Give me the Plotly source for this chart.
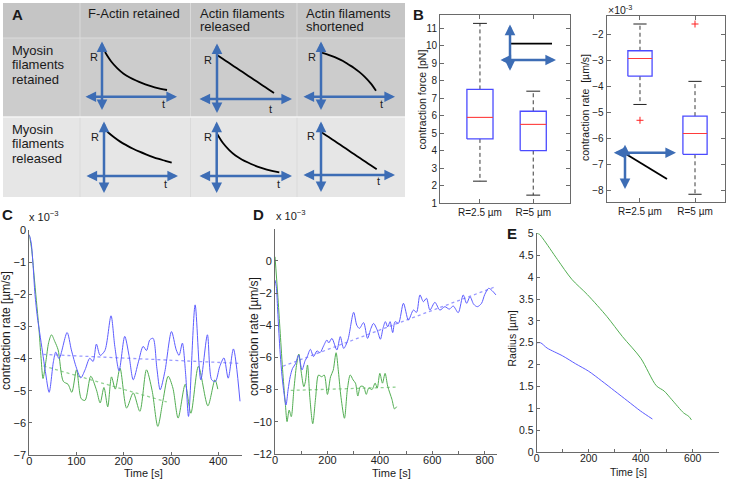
import plotly.graph_objects as go

W, H = 729, 480
FONT = "Liberation Sans, Arial, sans-serif"
BLUE = "#5c5cff"
GREEN = "#52ad52"
BLUE_DOT = "#9a9aff"
GREEN_DOT = "#93d293"
ARROW = "#3d6db5"
AXIS = "#6a6a6a"

# ---------------- panel B: box statistics ----------------
groups = ["R=2.5 µm", "R=5 µm"]
force_lo = [2.25, 1.45]
force_q1 = [4.67, 4.0]
force_med = [5.9, 5.5]
force_q3 = [7.5, 6.25]
force_hi = [11.28, 7.4]

rate_lo = [-4.7, -8.16]
rate_q1 = [-3.61, -6.62]
rate_med = [-2.93, -5.82]
rate_q3 = [-2.63, -5.15]
rate_hi = [-1.6, -3.81]
rate_out_group = [1, 2]
rate_out_val = [-5.31, -1.6]

# ---------------- panel C: contraction rate (x 10^-3 um/s) ----------------
c_blue_t = [0, 4, 8, 12, 17, 22, 28, 34, 42, 51, 56, 63, 80, 89, 100, 109, 118, 128, 135, 142,
            150, 160, 173, 181, 190, 202, 211, 220, 231, 241, 248, 255, 262, 270, 277, 287, 301,
            311, 317, 324, 331, 337, 351, 363, 377, 386, 394, 403, 412, 421, 432, 446]
c_blue_v = [-0.15, -0.4, -1.1, -2.0, -2.7, -3.2, -3.8, -4.4, -5.05, -4.1, -3.8, -4.0, -3.19, -3.73,
            -4.3, -4.6, -4.35, -3.99, -4.09, -3.55, -3.9, -3.75, -2.67, -3.62, -4.38, -3.31, -3.9,
            -4.66, -4.1, -3.62, -3.75, -3.42, -3.37, -4.3, -4.97, -4.4, -3.16, -3.73, -3.9, -3.52,
            -4.5, -5.8, -2.33, -4.66, -3.26, -4.66, -4.71, -4.25, -3.98, -4.61, -3.7, -5.33]
c_green_t = [0, 5, 10, 15, 20, 25, 29, 35, 41, 47, 54, 61, 72, 82, 90, 100, 110, 118, 130, 142,
             150, 158, 166, 174, 182, 192, 206, 220, 234, 248, 260, 272, 283, 294, 304, 315, 330,
             342, 358, 378, 393, 399]
c_green_v = [-0.15, -0.6, -1.4, -2.2, -3.0, -4.0, -4.62, -4.1, -3.5, -3.26, -3.47, -3.73, -4.71,
             -4.8, -5.05, -4.35, -5.25, -5.3, -4.55, -4.97, -5.38, -4.9, -5.5, -4.57, -4.95, -4.3,
             -5.54, -5.07, -5.64, -4.35, -5.0, -6.11, -5.3, -4.55, -4.92, -5.85, -4.8, -5.7,
             -4.24, -5.47, -4.66, -4.95]
c_blue_fit_t = [30, 446]
c_blue_fit_v = [-3.87, -4.15]
c_green_fit_t = [30, 291]
c_green_fit_v = [-4.23, -5.35]

# ---------------- panel D ----------------
d_blue_t = [0, 5, 10, 15, 20, 27, 35, 42, 50, 58, 67, 78, 90, 103, 115, 122, 135, 147, 160, 172,
            185, 198, 205, 217, 236, 249, 262, 278, 300, 312, 322, 338, 353, 366, 376, 390, 402,
            412, 421, 430, 439, 449, 458, 471, 490, 509, 528, 540, 553, 566, 578, 591, 610, 629,
            648, 665, 680, 699, 718, 731, 744, 758, 772, 788, 800, 815, 828, 843]
d_blue_v = [-1.2, -1.6, -3.0, -4.5, -5.8, -7.2, -8.3, -8.96, -8.0, -7.2, -6.68, -6.4, -5.85, -6.78,
            -6.2, -6.0, -5.5, -5.95, -5.6, -5.7, -5.3, -4.92, -5.1, -4.82, -5.54, -4.71, -5.44,
            -4.92, -3.2, -4.0, -4.2, -3.84, -4.82, -4.2, -3.89, -4.3, -4.87, -4.2, -3.78, -4.1,
            -3.78, -4.46, -3.78, -3.88, -2.64, -3.68, -3.06, -3.2, -2.12, -2.54, -2.33, -3.06,
            -2.58, -3.06, -2.85, -3.0, -2.81, -3.22, -2.12, -2.64, -2.23, -2.7, -2.85, -2.64,
            -2.1, -1.71, -1.85, -2.12]
d_green_t = [0, 10, 20, 30, 40, 46, 54, 62, 72, 82, 91, 100, 110, 116, 124, 133, 144, 155, 166,
             178, 188, 200, 212, 222, 233, 242, 252, 265, 276, 287, 298, 307, 316, 326, 338, 348,
             358, 370, 382, 390, 400, 410, 420, 430, 446, 456, 464]
d_green_v = [0.25, -2.0, -4.5, -7.0, -9.0, -9.99, -9.27, -9.68, -8.0, -6.5, -5.79, -6.9, -7.82,
             -7.5, -6.47, -8.5, -10.12, -8.5, -7.1, -7.2, -7.1, -8.3, -7.2, -6.8, -5.71, -6.9,
             -8.5, -9.78, -8.0, -7.09, -7.4, -7.6, -8.4, -7.8, -7.82, -8.3, -7.9, -8.0, -7.6,
             -7.9, -6.99, -7.6, -6.99, -7.8, -8.6, -9.2, -9.06]
d_blue_fit_t = [30, 835]
d_blue_fit_v = [-6.55, -1.65]
d_green_fit_t = [60, 460]
d_green_fit_v = [-8.05, -7.85]

# ---------------- panel E: radius ----------------
e_blue_t = [0, 15, 40, 100, 150, 200, 250, 300, 350, 400, 445]
e_blue_r = [2.5, 2.5, 2.38, 2.2, 2.02, 1.85, 1.63, 1.4, 1.17, 0.94, 0.76]
e_green_t = [0, 10, 25, 80, 135, 195, 270, 330, 400, 460, 490, 520, 565, 585, 595]
e_green_r = [5.0, 4.98, 4.87, 4.4, 3.95, 3.6, 3.1, 2.64, 2.15, 1.52, 1.4, 1.2, 0.9, 0.82, 0.74]

# ---------------- panel A: schematic R(t) shapes ----------------
col_titles = [["F-Actin retained"], ["Actin filaments", "released"], ["Actin filaments", "shortened"]]
row_titles = [["Myosin", "filaments", "retained"], ["Myosin", "filaments", "released"]]
profile_u = [0, .1, .2, .3, .4, .5, .6, .7, .8, .9, 1]
profiles = {
    "decay": [0, .25, .43, .57, .67, .75, .82, .88, .93, .97, 1],
    "decay_slow": [0, .17, .32, .44, .55, .645, .73, .81, .88, .94, 1],
    "linear": [0, .1, .2, .3, .4, .5, .6, .7, .8, .9, 1],
    "concave": [0, .04, .09, .15, .22, .31, .4, .51, .64, .8, 1],
}
cell_curve = [["decay", "linear", "concave"], ["decay_slow", "decay", "linear"]]

# cell geometry in page pixels: curve start/end, arrow axes, label spots
cell_geo = [
    [dict(p0=(105, 52), p1=(167, 90), vx=102, vy=(40, 110), hy=96.7, hx=(84, 177), R=(94, 57), t=(163, 104)),
     dict(p0=(217, 55), p1=(274, 93), vx=217, vy=(42, 113), hy=99, hx=(198, 292), R=(208, 60), t=(270, 109)),
     dict(p0=(321, 52.7), p1=(376, 90.7), vx=321, vy=(40, 110), hy=96.7, hx=(302, 395), R=(312, 57), t=(381, 104))],
    [dict(p0=(107.3, 131.7), p1=(171.7, 162.7), vx=104, vy=(120, 193), hy=176, hx=(85, 178), R=(95, 137), t=(165, 184)),
     dict(p0=(216.7, 133.3), p1=(279.3, 172.3), vx=216.7, vy=(120, 193), hy=176, hx=(198, 292), R=(208, 137), t=(278, 184)),
     dict(p0=(320.7, 131.7), p1=(376.7, 169.3), vx=321, vy=(120, 192), hy=175, hx=(302, 395), R=(311, 136), t=(378, 181))],
]

fig = go.Figure()


def txt(x, y, s, size=11, bold=False, xanchor="center", angle=0, color="#1a1a1a"):
    fig.add_annotation(x=x, y=y, xref="x6", yref="y6", text=f"<b>{s}</b>" if bold else s,
                       showarrow=False, xanchor=xanchor, yanchor="middle", textangle=angle,
                       font=dict(family=FONT, size=size, color=color))


def arrow2(x0, y0, x1, y1):
    fig.add_annotation(x=x1, y=y1, ax=x0, ay=y0, xref="x6", yref="y6", axref="x6", ayref="y6",
                       text="", showarrow=True, arrowhead=2, startarrowhead=2,
                       arrowside="end+start", arrowsize=0.85, startarrowsize=0.85,
                       arrowwidth=2.5, arrowcolor=ARROW, standoff=0, startstandoff=0)


def seg(x0, y0, x1, y1, color="black", width=1.8):
    fig.add_shape(type="line", x0=x0, y0=y0, x1=x1, y1=y1, xref="x6", yref="y6",
                  line=dict(color=color, width=width))


# ---- panel A table background
fig.add_shape(type="rect", x0=3, x1=405, y0=3, y1=38, xref="x6", yref="y6", layer="below",
              fillcolor="#c5c5c5", line_width=0)
fig.add_shape(type="rect", x0=3, x1=405, y0=38, y1=117, xref="x6", yref="y6", layer="below",
              fillcolor="#cccccc", line_width=0)
fig.add_shape(type="rect", x0=3, x1=405, y0=117, y1=197, xref="x6", yref="y6", layer="below",
              fillcolor="#e6e6e6", line_width=0)
for xv in [80, 190.5, 297]:
    seg(xv, 3, xv, 197, color="#dadada", width=1)
seg(3, 38, 405, 38, color="#dcdcdc", width=1.2)
seg(3, 117, 405, 117, color="#f4f4f4", width=1.6)

txt(17.5, 14.5, "A", size=15, bold=True)
col_x = [86, 198, 304]
for cx, lines in zip(col_x, col_titles):
    for k, line in enumerate(lines):
        txt(cx, 13.3 + 13.4 * k, line, size=13, xanchor="left")
row_y = [50, 129]
for ry, lines in zip(row_y, row_titles):
    for k, line in enumerate(lines):
        txt(10, ry + 14.7 * k, line, size=13, xanchor="left")

for r in range(2):
    for c in range(3):
        g = cell_geo[r][c]
        prof = profiles[cell_curve[r][c]]
        (x0, y0), (x1, y1) = g["p0"], g["p1"]
        xs = [x0 + u * (x1 - x0) for u in profile_u]
        ys = [y0 + f * (y1 - y0) for f in prof]
        fig.add_trace(go.Scatter(x=xs, y=ys, xaxis="x6", yaxis="y6", mode="lines",
                                 line=dict(color="black", width=1.8, shape="spline"),
                                 hoverinfo="skip", showlegend=False))
        arrow2(g["vx"], g["vy"][0], g["vx"], g["vy"][1])
        arrow2(g["hx"][0], g["hy"], g["hx"][1], g["hy"])
        txt(g["R"][0], g["R"][1], "R", size=11)
        txt(g["t"][0], g["t"][1], "t", size=11)


# ---- panel B boxes
def boxes(lo, q1, med, q3, hi, half, cap, xa, ya):
    for i in range(len(q1)):
        x = i + 1
        fig.add_trace(go.Scatter(x=[x, x, None, x, x], y=[q3[i], hi[i], None, q1[i], lo[i]],
                                 xaxis=xa, yaxis=ya, mode="lines",
                                 line=dict(color="#3a3a3a", width=1, dash="4px,3px"),
                                 showlegend=False, hoverinfo="skip"))
        fig.add_trace(go.Scatter(x=[x - cap, x + cap, None, x - cap, x + cap],
                                 y=[hi[i], hi[i], None, lo[i], lo[i]],
                                 xaxis=xa, yaxis=ya, mode="lines",
                                 line=dict(color="#222", width=1), showlegend=False, hoverinfo="skip"))
        fig.add_trace(go.Scatter(x=[x - half, x + half, x + half, x - half, x - half],
                                 y=[q1[i], q1[i], q3[i], q3[i], q1[i]],
                                 xaxis=xa, yaxis=ya, mode="lines",
                                 line=dict(color="#4b4bff", width=1.3), showlegend=False, hoverinfo="skip"))
        fig.add_trace(go.Scatter(x=[x - half, x + half], y=[med[i], med[i]],
                                 xaxis=xa, yaxis=ya, mode="lines",
                                 line=dict(color="#ff3b3b", width=1.1), showlegend=False, hoverinfo="skip"))


boxes(force_lo, force_q1, force_med, force_q3, force_hi, 0.245, 0.13, "x", "y")
boxes(rate_lo, rate_q1, rate_med, rate_q3, rate_hi, 0.22, 0.12, "x2", "y2")
fig.add_trace(go.Scatter(x=rate_out_group, y=rate_out_val, xaxis="x2", yaxis="y2", mode="markers",
                         marker=dict(symbol="cross-thin", size=5, line=dict(color="#ff2020", width=1)),
                         showlegend=False, hoverinfo="skip"))

# B insets
arrow2(510, 23, 510, 70.7)
arrow2(499, 60, 556, 60)
seg(511, 43.7, 552, 43.7)
arrow2(612.3, 152.7, 676, 152.7)
arrow2(625, 143.3, 625, 189)
seg(621, 151, 667, 179)

txt(418, 14.5, "B", size=15, bold=True)
txt(421.5, 100, "contraction force [pN]", size=10.5, angle=-90)
txt(585, 108, "contraction rate  [µm/s]", size=10.5, angle=-90)
txt(606, 9, "×10<sup>-3</sup>", size=10.5, xanchor="left")


# ---- panels C, D, E lines
def line(t, v, color, xa, ya, dash=None, width=1):
    fig.add_trace(go.Scatter(x=t, y=v, xaxis=xa, yaxis=ya, mode="lines",
                             line=dict(color=color, width=width, dash=dash,
                                       shape="linear" if dash else "spline", smoothing=0.8),
                             showlegend=False, hoverinfo="skip"))


line(c_blue_fit_t, c_blue_fit_v, BLUE_DOT, "x3", "y3", dash="dot", width=1.3)
line(c_green_fit_t, c_green_fit_v, GREEN_DOT, "x3", "y3", dash="dot", width=1.3)
line(c_green_t, c_green_v, GREEN, "x3", "y3")
line(c_blue_t, c_blue_v, BLUE, "x3", "y3")

line(d_blue_fit_t, d_blue_fit_v, BLUE_DOT, "x4", "y4", dash="dot", width=1.3)
line(d_green_fit_t, d_green_fit_v, GREEN_DOT, "x4", "y4", dash="dot", width=1.3)
line(d_green_t, d_green_v, GREEN, "x4", "y4")
line(d_blue_t, d_blue_v, BLUE, "x4", "y4")

line(e_green_t, e_green_r, GREEN, "x5", "y5")
line(e_blue_t, e_blue_r, BLUE, "x5", "y5")

txt(7.5, 214.5, "C", size=15, bold=True)
txt(27, 216, "x 10<sup>−3</sup>", size=11, xanchor="left")
txt(6, 331, "contraction rate [µm/s]", size=12, angle=-90)
txt(143, 473, "Time [s]", size=11)

txt(258, 214.5, "D", size=15, bold=True)
txt(274, 215, "x 10<sup>−3</sup>", size=11, xanchor="left")
txt(254, 337, "contraction rate [µm/s]", size=12, angle=-90)
txt(391, 473, "Time [s]", size=11)

txt(511.5, 233.5, "E", size=15, bold=True)
txt(511.5, 339, "Radius [µm]", size=10.5, angle=-90)
txt(628, 472, "Time [s]", size=10.5)


def dom_x(a, b):
    return [a / W, b / W]


def dom_y(top, bottom):
    return [1 - bottom / H, 1 - top / H]


box_ax = dict(showline=True, linecolor=AXIS, linewidth=1, mirror="ticks", ticks="inside",
              ticklen=4, tickcolor=AXIS, showgrid=False, zeroline=False,
              tickfont=dict(family=FONT, size=10, color="#222"))
plain_ax = dict(showline=True, linecolor=AXIS, linewidth=1, ticks="inside", ticklen=3,
                tickcolor=AXIS, showgrid=False, zeroline=False,
                tickfont=dict(family=FONT, size=11, color="#222"))
time_ax = dict(plain_ax, ticklabelstandoff=-4)

fig.update_layout(
    width=W, height=H, margin=dict(l=0, r=0, t=0, b=0),
    paper_bgcolor="white", plot_bgcolor="rgba(0,0,0,0)", template="none",
    font=dict(family=FONT), showlegend=False,
    xaxis=dict(box_ax, anchor="y", domain=dom_x(440, 570), range=[0.25, 2.69], tickvals=[1, 2], ticktext=groups),
    yaxis=dict(box_ax, anchor="x", domain=dom_y(15, 203), range=[1, 11.76], tickvals=list(range(1, 12))),
    xaxis2=dict(box_ax, anchor="y2", domain=dom_x(606.7, 725), range=[0.395, 2.545], tickvals=[1, 2], ticktext=groups),
    yaxis2=dict(box_ax, anchor="x2", domain=dom_y(15.7, 202.3), range=[-8.47, -1.28], tickvals=list(range(-8, -1))),
    xaxis3=dict(time_ax, anchor="y3", domain=dom_x(29.3, 241.9), range=[0, 450], tickvals=[0, 100, 200, 300, 400]),
    yaxis3=dict(plain_ax, anchor="x3", domain=dom_y(230, 455), range=[-7, 0], tickvals=list(range(-7, 1))),
    xaxis4=dict(time_ax, anchor="y4", domain=dom_x(275, 496.5), range=[0, 845],
                tickvals=list(range(0, 900, 100)),
                ticktext=["0", "", "200", "", "400", "", "600", "", "800"]),
    yaxis4=dict(plain_ax, anchor="x4", domain=dom_y(228.6, 454), range=[-12, 2], tickvals=list(range(-12, 1, 2))),
    xaxis5=dict(time_ax, anchor="y5", domain=dom_x(536.7, 718.7), range=[0, 700],
                tickvals=list(range(0, 800, 100)),
                ticktext=["0", "", "200", "", "400", "", "600", ""],
                tickfont=dict(family=FONT, size=10.5, color="#222")),
    yaxis5=dict(plain_ax, anchor="x5", domain=dom_y(233.3, 452.3), range=[0, 5],
                tickvals=[0, 0.5, 1, 1.5, 2, 2.5, 3, 3.5, 4, 4.5, 5],
                ticktext=["0", "0.5", "1", "1.5", "2", "2.5", "3", "3.5", "4", "4.5", "5"],
                tickfont=dict(family=FONT, size=10.5, color="#222")),
    xaxis6=dict(anchor="y6", domain=[0, 1], range=[0, W], visible=False, fixedrange=True),
    yaxis6=dict(anchor="x6", domain=[0, 1], range=[H, 0], visible=False, fixedrange=True),
)

# the page body has a default margin; remove it so the figure sits at the window's corner
fig.write_html("out.html", config={"displayModeBar": False},
               post_script="document.body.style.margin='0px';")
